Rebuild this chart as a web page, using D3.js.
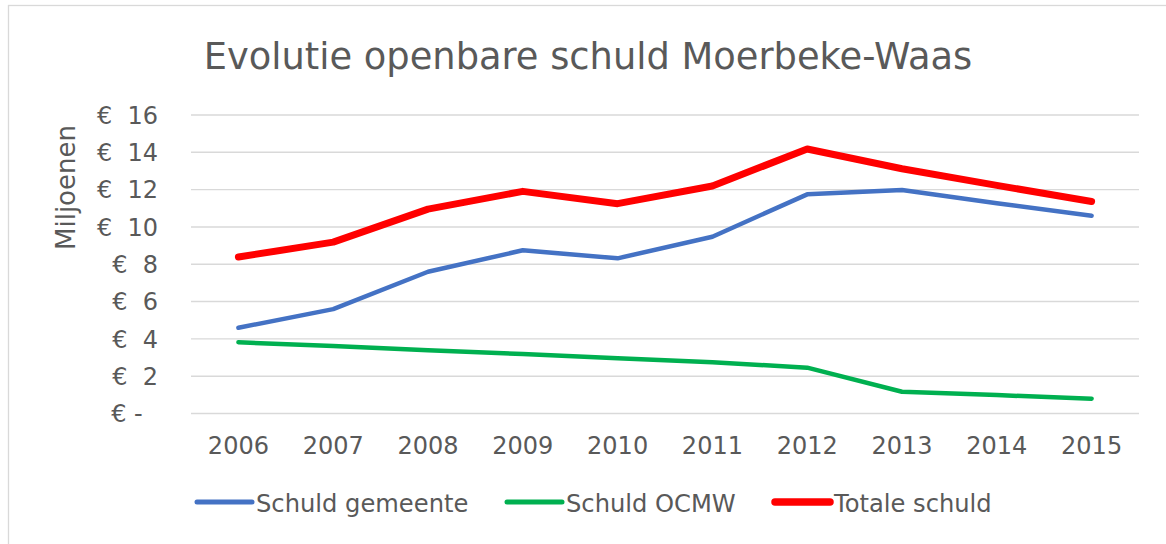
<!DOCTYPE html>
<html>
<head>
<meta charset="utf-8">
<script src="https://cdn.jsdelivr.net/npm/d3@7"></script>
<style>
  html, body { margin: 0; padding: 0; background: #fff; }
  svg text { font-family: Verdana, "DejaVu Sans", sans-serif; fill: #595959; white-space: pre; }
</style>
</head>
<body>
<svg id="chart" width="1166" height="544"></svg>
<script>
// ---- data ----
const years = ["2006","2007","2008","2009","2010","2011","2012","2013","2014","2015"];
const schuldGemeente = [4.57, 5.57, 7.57, 8.72, 8.29, 9.45, 11.72, 11.95, 11.24, 10.57];
const schuldOCMW     = [3.79, 3.59, 3.36, 3.16, 2.93, 2.72, 2.43, 1.14, 0.96, 0.77];
const totaleSchuld   = [8.36, 9.16, 10.93, 11.88, 11.22, 12.17, 14.15, 13.09, 12.20, 11.34];
const yTicks = [0, 2, 4, 6, 8, 10, 12, 14, 16];
const seriesNames = ["Schuld gemeente", "Schuld OCMW", "Totale schuld"];
const titleText = "Evolutie openbare schuld Moerbeke-Waas";
const yAxisTitle = "Miljoenen";

// ---- layout ----
const svg = d3.select("#chart");
const plot = { left: 191, right: 1139, top: 114.5, bottom: 413 };

svg.append("rect")
  .attr("x", 8.5).attr("y", 5.5).attr("width", 1180).attr("height", 560)
  .attr("fill", "#fff").attr("stroke", "#d9d9d9").attr("stroke-width", 1.3);

const x = d3.scaleBand().domain(years).range([plot.left, plot.right]);
const y = d3.scaleLinear().domain([0, 16]).range([plot.bottom, plot.top]);

// gridlines
const yAxisGrid = d3.axisLeft(y).tickValues(yTicks).tickSize(-(plot.right - plot.left)).tickFormat("");
const grid = svg.append("g").attr("transform", `translate(${plot.left},0)`).call(yAxisGrid);
grid.select(".domain").remove();
grid.selectAll(".tick line").attr("stroke", "#d9d9d9").attr("stroke-width", 1.4);

// y tick labels
const yAxis = d3.axisLeft(y).tickValues(yTicks).tickSize(0).tickPadding(0)
  .tickFormat(d => d === 0 ? "€ -  " : "€  " + d);
const ya = svg.append("g").attr("transform", `translate(158,0)`).call(yAxis);
ya.select(".domain").remove();
ya.selectAll("text").attr("font-size", 24).attr("fill", "#595959")
  .style("font-family", 'Verdana, "DejaVu Sans", sans-serif').attr("dy", "0.36em");

// x labels
const xAxis = d3.axisBottom(x).tickSize(0).tickPadding(0);
const xa = svg.append("g").attr("transform", `translate(0,${plot.bottom})`).call(xAxis);
xa.select(".domain").remove();
xa.selectAll("text").attr("font-size", 24).attr("fill", "#595959")
  .style("font-family", 'Verdana, "DejaVu Sans", sans-serif').attr("y", 41).attr("dy", 0);

// lines
const colors = ["#4472C4", "#00B050", "#FF0000"];
const widths = [4.5, 4.5, 7];
const allSeries = [schuldGemeente, schuldOCMW, totaleSchuld];
const line = d3.line()
  .x((d, i) => x(years[i]) + x.bandwidth() / 2)
  .y(d => y(d));
allSeries.forEach((s, k) => {
  svg.append("path").datum(s)
    .attr("d", line)
    .attr("fill", "none")
    .attr("stroke", colors[k])
    .attr("stroke-width", widths[k])
    .attr("stroke-linecap", "round")
    .attr("stroke-linejoin", "round");
});

// title
svg.append("text").attr("x", 588).attr("y", 69)
  .attr("text-anchor", "middle").attr("font-size", 36.8).text(titleText);

// y axis title
svg.append("text").attr("transform", "translate(75,187.5) rotate(-90)")
  .attr("text-anchor", "middle").attr("font-size", 26).text(yAxisTitle);

// legend
const legendX = [197, 507, 775];
seriesNames.forEach((n, k) => {
  const g = svg.append("g").attr("transform", `translate(${legendX[k]},502)`);
  g.append("line").attr("x1", 0).attr("x2", 55).attr("y1", 0).attr("y2", 0)
    .attr("stroke", colors[k]).attr("stroke-width", widths[k] + 0.5).attr("stroke-linecap", "round");
  g.append("text").attr("x", 59).attr("y", 10).attr("font-size", 24.2).text(n);
});
</script>
</body>
</html>
